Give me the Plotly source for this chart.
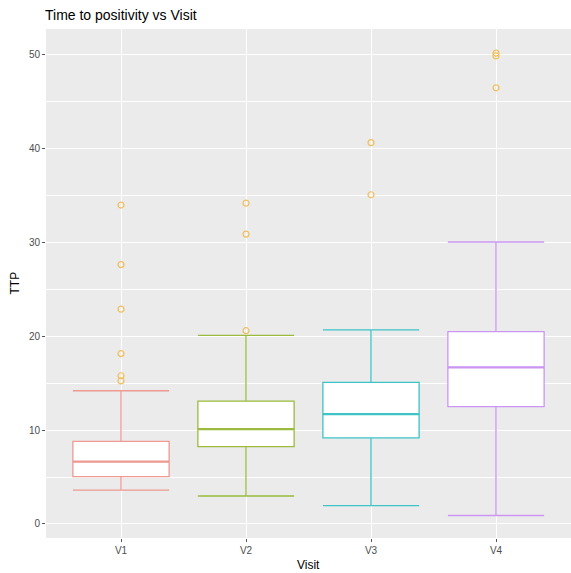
import plotly.graph_objects as go

visits = ["V1", "V2", "V3", "V4"]
q1 = [5.05, 8.25, 9.17, 12.5]
median = [6.65, 10.1, 11.7, 16.7]
q3 = [8.8, 13.1, 15.1, 20.5]
lower_whisker = [3.6, 2.98, 1.95, 0.9]
upper_whisker = [14.2, 20.1, 20.7, 30.06]
outliers = {
    "V1": [34.0, 27.65, 22.9, 18.16, 15.8, 15.25],
    "V2": [34.2, 30.9, 20.6],
    "V3": [40.65, 35.1],
    "V4": [50.2, 49.9, 46.5],
}
colors = ["#EE9A93", "#9CBB3E", "#3EC3C7", "#CB96F2"]
outlier_color = "#F0BE5A"
box_width = 0.77

W, H = 571, 573
L, R, T, B = 46, 0, 29, 35
PW, PH = W - L - R, H - T - B

fig = go.Figure()
for i, v in enumerate(visits):
    fig.add_trace(go.Box(
        x=[v], q1=[q1[i]], median=[median[i]], q3=[q3[i]],
        lowerfence=[lower_whisker[i]], upperfence=[upper_whisker[i]],
        width=box_width, whiskerwidth=1,
        fillcolor="white", line=dict(color=colors[i], width=1.3),
        boxpoints=False, showlegend=False, hoverinfo="skip",
    ))
    # thicker median line, as in ggplot
    fig.add_shape(type="line", xref="x", yref="y",
                  x0=i - box_width / 2, x1=i + box_width / 2,
                  y0=median[i], y1=median[i],
                  line=dict(color=colors[i], width=2.2))
for v in visits:
    ys = outliers[v]
    fig.add_trace(go.Scatter(
        x=[v] * len(ys), y=ys, mode="markers",
        marker=dict(symbol="circle-open", size=6, color=outlier_color,
                    line=dict(width=1.2, color=outlier_color)),
        showlegend=False, hoverinfo="skip",
    ))

font = "Liberation Sans, Arial, sans-serif"
fig.update_layout(
    width=W, height=H,
    margin=dict(l=L, r=R, t=T, b=B, autoexpand=False),
    paper_bgcolor="white", plot_bgcolor="#EBEBEB",
    font=dict(family=font, color="#222"),
    boxmode="overlay",
    title=dict(text="Time to positivity vs Visit", x=45 / W, xanchor="left",
               xref="container", yref="container", y=1 - 15 / H, yanchor="middle",
               font=dict(size=14, color="black", family=font)),
    xaxis=dict(
        type="category", categoryorder="array", categoryarray=visits,
        range=[-0.6, 3.6], showgrid=True, gridcolor="white", gridwidth=1.1,
        ticks="outside", ticklen=3, tickcolor="#555", tickwidth=1,
        tickfont=dict(size=10, color="#4D4D4D"), zeroline=False, showline=False,
        automargin=False,
    ),
    yaxis=dict(
        range=[-1.5, 52.77], dtick=10, tick0=0,
        showgrid=True, gridcolor="white", gridwidth=1.1,
        minor=dict(dtick=5, tick0=5, showgrid=True, gridcolor="white", gridwidth=0.5),
        ticks="outside", ticklen=3, tickcolor="#555", tickwidth=1,
        tickfont=dict(size=10, color="#4D4D4D"), zeroline=False, showline=False,
        automargin=False,
    ),
    annotations=[
        dict(text="Visit", xref="paper", yref="paper", x=0.5, y=-27 / PH,
             xanchor="center", yanchor="middle", showarrow=False,
             font=dict(size=12, color="black")),
        dict(text="TTP", xref="paper", yref="paper", x=(14 - L) / PW, y=0.5,
             xanchor="center", yanchor="middle", showarrow=False, textangle=-90,
             font=dict(size=12, color="black")),
    ],
)
fig.write_html("out.html", config={"displayModeBar": False},
               post_script="document.body.style.margin='0';")
